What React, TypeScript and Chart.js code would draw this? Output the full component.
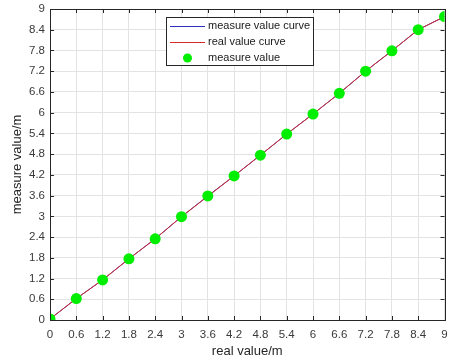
import React, { useEffect, useRef } from "react";
import { Chart, registerables } from "chart.js";

Chart.register(...registerables);

const realValues = [0, 0.6, 1.2, 1.8, 2.4, 3, 3.6, 4.2, 4.8, 5.4, 6, 6.6, 7.2, 7.8, 8.4, 9];
const measuredValues = [0.03, 0.62, 1.16, 1.77, 2.35, 2.99, 3.59, 4.17, 4.77, 5.38, 5.96, 6.56, 7.2, 7.79, 8.4, 8.78];
const realCurveValues = [0.03, 0.62, 1.16, 1.77, 2.35, 2.99, 3.58, 4.17, 4.77, 5.38, 5.96, 6.56, 7.2, 7.79, 8.4, 8.78];
const tickValues = [0, 0.6, 1.2, 1.8, 2.4, 3, 3.6, 4.2, 4.8, 5.4, 6, 6.6, 7.2, 7.8, 8.4, 9];
const tickLabels = ["0", "0.6", "1.2", "1.8", "2.4", "3", "3.6", "4.2", "4.8", "5.4", "6", "6.6", "7.2", "7.8", "8.4", "9"];
const seriesLabels = ["measure value curve", "real value curve", "measure value"];

const FONT = "'Liberation Sans', Arial, sans-serif";
const AXIS_COLOR = "#262626";

const boxPlugin = {
  id: "matlabBox",
  afterDraw(chart: any) {
    const { ctx, chartArea } = chart;
    const { left, right, top, bottom } = chartArea;
    const xs = chart.scales.x;
    const ys = chart.scales.y;
    ctx.save();
    ctx.strokeStyle = AXIS_COLOR;
    ctx.lineWidth = 1;
    ctx.beginPath();
    const tl = 4;
    for (const v of tickValues) {
      const px = Math.round(xs.getPixelForValue(v)) + 0.5;
      ctx.moveTo(px, bottom);
      ctx.lineTo(px, bottom - tl);
      ctx.moveTo(px, top);
      ctx.lineTo(px, top + tl);
      const py = Math.round(ys.getPixelForValue(v)) + 0.5;
      ctx.moveTo(left, py);
      ctx.lineTo(left + tl, py);
      ctx.moveTo(right, py);
      ctx.lineTo(right - tl, py);
    }
    ctx.stroke();
    ctx.strokeRect(Math.round(left) + 0.5, Math.round(top) + 0.5, Math.round(right - left), Math.round(bottom - top));

    // legend
    const bx = 166.5, by = 17.5, bw = 147, bh = 48;
    ctx.fillStyle = "#ffffff";
    ctx.fillRect(bx, by, bw, bh);
    ctx.strokeStyle = "#262626";
    ctx.strokeRect(bx, by, bw, bh);
    const ds = chart.data.datasets;
    const rows = [26, 42, 58];
    ctx.font = `11px ${FONT}`;
    ctx.textBaseline = "middle";
    ctx.textAlign = "left";
    for (let i = 0; i < 3; i++) {
      const y = rows[i];
      if (i < 2) {
        ctx.strokeStyle = ds[i].borderColor;
        ctx.lineWidth = 1;
        ctx.beginPath();
        ctx.moveTo(170, y + 0.5);
        ctx.lineTo(205, y + 0.5);
        ctx.stroke();
      } else {
        ctx.fillStyle = ds[i].pointBackgroundColor;
        ctx.beginPath();
        ctx.arc(187.5, y, 4.5, 0, Math.PI * 2);
        ctx.fill();
      }
      ctx.fillStyle = "#1a1a1a";
      ctx.fillText(seriesLabels[i], 208, y);
    }
    ctx.restore();
  },
};

export default function App() {
  const ref = useRef<HTMLCanvasElement | null>(null);
  useEffect(() => {
    document.body.style.margin = "0";
    const toPts = (ys: number[]) => realValues.map((x, i) => ({ x, y: ys[i] }));
    const chart = new Chart(ref.current as HTMLCanvasElement, {
      type: "scatter",
      data: {
        datasets: [
          {
            label: seriesLabels[0],
            data: toPts(measuredValues),
            showLine: true,
            borderColor: "#3030c0",
            borderWidth: 1,
            pointRadius: 0,
            order: 3,
          },
          {
            label: seriesLabels[1],
            data: toPts(realCurveValues),
            showLine: true,
            borderColor: "#d42a2a",
            borderWidth: 1,
            pointRadius: 0,
            order: 2,
          },
          {
            label: seriesLabels[2],
            data: toPts(measuredValues),
            showLine: false,
            pointRadius: 5.5,
            pointBackgroundColor: "#00ee00",
            pointBorderColor: "#00ee00",
            pointBorderWidth: 0,
            order: 1,
          } as any,
        ],
      },
      options: {
        animation: false,
        responsive: false,
        devicePixelRatio: 1,
        layout: { padding: { top: 9, right: 4, left: 0, bottom: 0 } },
        plugins: { legend: { display: false }, tooltip: { enabled: false } },
        scales: {
          x: {
            type: "linear",
            min: 0,
            max: 9,
            afterBuildTicks: (s: any) => {
              s.ticks = tickValues.map((v) => ({ value: v }));
            },
            afterFit: (s: any) => {
              s.height = 43;
              s.paddingLeft = 0;
              s.paddingRight = 0;
            },
            ticks: {
              callback: (_v: any, i: number) => tickLabels[i],
              font: { family: FONT, size: 11.5 },
              color: "#3a3a3a",
              padding: 8,
              maxRotation: 0,
              autoSkip: false,
            },
            grid: { color: "#e3e3e3", drawTicks: false },
            border: { display: false },
            title: {
              display: true,
              text: "real value/m",
              font: { family: FONT, size: 13 },
              color: "#262626",
              padding: { top: 0, bottom: 4 },
            },
          },
          y: {
            type: "linear",
            min: 0,
            max: 9,
            afterBuildTicks: (s: any) => {
              s.ticks = tickValues.map((v) => ({ value: v }));
            },
            afterFit: (s: any) => {
              s.width = 50;
              s.paddingTop = 0;
              s.paddingBottom = 0;
            },
            ticks: {
              callback: (_v: any, i: number) => tickLabels[i],
              font: { family: FONT, size: 11.5 },
              color: "#3a3a3a",
              padding: 5,
              autoSkip: false,
            },
            grid: { color: "#e3e3e3", drawTicks: false },
            border: { display: false },
            title: {
              display: true,
              text: "measure value/m",
              font: { family: FONT, size: 13 },
              color: "#262626",
              padding: { top: 10, bottom: 0 },
            },
          },
        },
      } as any,
      plugins: [boxPlugin],
    });
    return () => chart.destroy();
  }, []);
  return (
    <div style={{ width: 450, height: 363 }}>
      <canvas ref={ref} width={450} height={363} style={{ display: "block" }} />
    </div>
  );
}
